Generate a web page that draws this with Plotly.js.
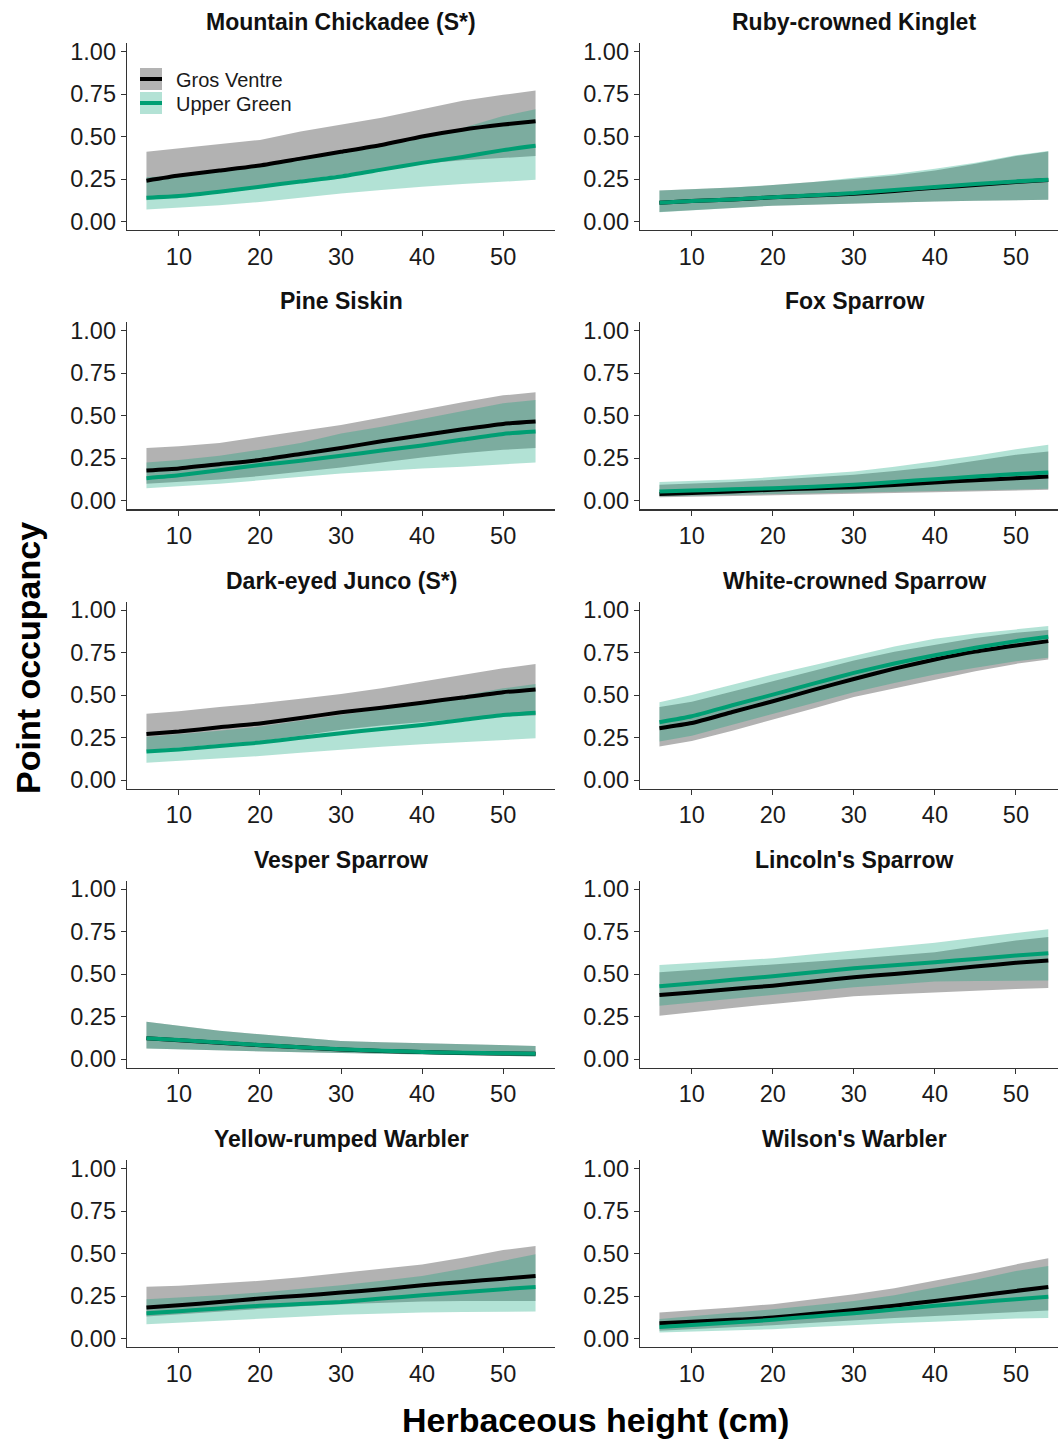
<!DOCTYPE html>
<html>
<head>
<meta charset="utf-8">
<script src="https://cdn.plot.ly/plotly-3.0.1.min.js"></script>
<style>html,body{margin:0;padding:0;background:#fff;}#chart{width:1058px;height:1441px;}</style>
</head>
<body>
<div id="chart"></div>
<script>
// ---------------- DATA ----------------
const heightCm = [6, 10, 15, 20, 25, 30, 35, 40, 45, 50, 54];
const xTicks = [10, 20, 30, 40, 50];
const yTicks = [0, 0.25, 0.5, 0.75, 1];
const yTickText = ['0.00', '0.25', '0.50', '0.75', '1.00'];
const seriesNames = ['Gros Ventre', 'Upper Green'];
const speciesTitles = [
  'Mountain Chickadee (S*)', 'Ruby-crowned Kinglet',
  'Pine Siskin', 'Fox Sparrow',
  'Dark-eyed Junco (S*)', 'White-crowned Sparrow',
  'Vesper Sparrow', "Lincoln's Sparrow",
  'Yellow-rumped Warbler', "Wilson's Warbler"
];

// Gros Ventre: mean, lower and upper interval (one list per species, same order as speciesTitles)
const gvMean = [
  [0.24, 0.27, 0.30, 0.33, 0.37, 0.41, 0.45, 0.50, 0.54, 0.57, 0.59],
  [0.11, 0.12, 0.13, 0.142, 0.153, 0.163, 0.18, 0.198, 0.215, 0.233, 0.244],
  [0.178, 0.19, 0.215, 0.24, 0.275, 0.31, 0.35, 0.385, 0.42, 0.452, 0.466],
  [0.039, 0.045, 0.055, 0.065, 0.072, 0.08, 0.093, 0.108, 0.12, 0.133, 0.143],
  [0.27, 0.285, 0.31, 0.333, 0.365, 0.398, 0.425, 0.455, 0.485, 0.516, 0.533],
  [0.305, 0.335, 0.40, 0.463, 0.53, 0.594, 0.655, 0.709, 0.755, 0.791, 0.817],
  [0.123, 0.112, 0.097, 0.083, 0.07, 0.058, 0.049, 0.042, 0.037, 0.034, 0.032],
  [0.378, 0.393, 0.413, 0.433, 0.458, 0.482, 0.502, 0.522, 0.545, 0.567, 0.581],
  [0.182, 0.195, 0.215, 0.235, 0.252, 0.27, 0.29, 0.313, 0.333, 0.352, 0.368],
  [0.09, 0.099, 0.11, 0.123, 0.145, 0.168, 0.193, 0.221, 0.25, 0.28, 0.303]
];
const gvLow = [
  [0.125, 0.15, 0.18, 0.21, 0.24, 0.275, 0.31, 0.34, 0.36, 0.375, 0.385],
  [0.056, 0.068, 0.08, 0.093, 0.10, 0.108, 0.113, 0.118, 0.122, 0.126, 0.128],
  [0.10, 0.11, 0.125, 0.145, 0.17, 0.195, 0.225, 0.255, 0.28, 0.30, 0.31],
  [0.02, 0.023, 0.027, 0.032, 0.036, 0.04, 0.045, 0.05, 0.055, 0.06, 0.065],
  [0.175, 0.19, 0.21, 0.23, 0.26, 0.295, 0.32, 0.34, 0.36, 0.372, 0.38],
  [0.197, 0.23, 0.29, 0.354, 0.42, 0.488, 0.54, 0.591, 0.64, 0.683, 0.709],
  [0.063, 0.058, 0.051, 0.045, 0.041, 0.037, 0.033, 0.029, 0.025, 0.02, 0.016],
  [0.256, 0.277, 0.302, 0.325, 0.348, 0.37, 0.383, 0.394, 0.404, 0.413, 0.419],
  [0.129, 0.142, 0.16, 0.178, 0.19, 0.202, 0.21, 0.217, 0.22, 0.221, 0.221],
  [0.045, 0.054, 0.066, 0.078, 0.093, 0.108, 0.121, 0.133, 0.145, 0.157, 0.164]
];
const gvHigh = [
  [0.41, 0.43, 0.455, 0.48, 0.53, 0.57, 0.61, 0.66, 0.71, 0.745, 0.77],
  [0.183, 0.19, 0.20, 0.214, 0.23, 0.25, 0.27, 0.30, 0.34, 0.385, 0.412],
  [0.31, 0.32, 0.34, 0.375, 0.41, 0.445, 0.49, 0.535, 0.58, 0.62, 0.638],
  [0.094, 0.10, 0.11, 0.123, 0.137, 0.153, 0.175, 0.20, 0.235, 0.27, 0.29],
  [0.39, 0.405, 0.43, 0.451, 0.478, 0.506, 0.54, 0.578, 0.62, 0.657, 0.682],
  [0.429, 0.46, 0.52, 0.581, 0.645, 0.703, 0.755, 0.797, 0.835, 0.866, 0.882],
  [0.22, 0.197, 0.168, 0.147, 0.126, 0.108, 0.10, 0.094, 0.087, 0.082, 0.078],
  [0.512, 0.525, 0.54, 0.555, 0.572, 0.591, 0.61, 0.63, 0.665, 0.699, 0.719],
  [0.305, 0.31, 0.325, 0.339, 0.36, 0.384, 0.41, 0.436, 0.475, 0.52, 0.544],
  [0.153, 0.165, 0.183, 0.202, 0.23, 0.26, 0.295, 0.339, 0.385, 0.436, 0.472]
];

// Upper Green: mean, lower and upper interval
const ugMean = [
  [0.14, 0.15, 0.175, 0.205, 0.235, 0.265, 0.305, 0.345, 0.38, 0.42, 0.445],
  [0.11, 0.12, 0.13, 0.143, 0.155, 0.167, 0.185, 0.203, 0.22, 0.236, 0.246],
  [0.133, 0.15, 0.18, 0.21, 0.235, 0.265, 0.295, 0.325, 0.36, 0.393, 0.407],
  [0.055, 0.06, 0.067, 0.074, 0.083, 0.094, 0.11, 0.127, 0.142, 0.157, 0.166],
  [0.167, 0.18, 0.20, 0.22, 0.248, 0.275, 0.30, 0.324, 0.353, 0.382, 0.396],
  [0.34, 0.375, 0.44, 0.502, 0.567, 0.63, 0.685, 0.734, 0.778, 0.817, 0.843],
  [0.124, 0.113, 0.098, 0.084, 0.071, 0.059, 0.05, 0.043, 0.038, 0.035, 0.033],
  [0.429, 0.446, 0.467, 0.488, 0.512, 0.535, 0.553, 0.571, 0.59, 0.61, 0.624],
  [0.149, 0.16, 0.177, 0.192, 0.203, 0.215, 0.235, 0.254, 0.272, 0.29, 0.303],
  [0.068, 0.079, 0.094, 0.11, 0.13, 0.149, 0.17, 0.192, 0.212, 0.231, 0.245]
];
const ugLow = [
  [0.07, 0.08, 0.095, 0.115, 0.14, 0.165, 0.185, 0.205, 0.22, 0.235, 0.245],
  [0.055, 0.068, 0.08, 0.093, 0.10, 0.108, 0.113, 0.118, 0.122, 0.126, 0.128],
  [0.074, 0.085, 0.10, 0.12, 0.14, 0.16, 0.175, 0.19, 0.20, 0.215, 0.225],
  [0.026, 0.03, 0.034, 0.038, 0.043, 0.048, 0.053, 0.058, 0.063, 0.067, 0.07],
  [0.102, 0.113, 0.127, 0.141, 0.16, 0.18, 0.196, 0.21, 0.222, 0.235, 0.245],
  [0.226, 0.26, 0.325, 0.39, 0.455, 0.516, 0.57, 0.62, 0.66, 0.699, 0.719],
  [0.063, 0.058, 0.051, 0.045, 0.041, 0.037, 0.033, 0.029, 0.025, 0.02, 0.016],
  [0.315, 0.333, 0.357, 0.378, 0.40, 0.423, 0.44, 0.457, 0.461, 0.463, 0.463],
  [0.084, 0.094, 0.106, 0.117, 0.128, 0.139, 0.147, 0.153, 0.156, 0.159, 0.159],
  [0.035, 0.041, 0.048, 0.055, 0.067, 0.08, 0.09, 0.098, 0.108, 0.117, 0.121]
];
const ugHigh = [
  [0.26, 0.27, 0.30, 0.33, 0.37, 0.40, 0.44, 0.49, 0.55, 0.62, 0.66],
  [0.183, 0.19, 0.20, 0.215, 0.232, 0.258, 0.28, 0.31, 0.345, 0.39, 0.415],
  [0.225, 0.24, 0.265, 0.30, 0.34, 0.395, 0.435, 0.48, 0.525, 0.573, 0.593],
  [0.11, 0.115, 0.125, 0.139, 0.155, 0.172, 0.20, 0.231, 0.265, 0.303, 0.329],
  [0.255, 0.27, 0.29, 0.314, 0.348, 0.382, 0.415, 0.451, 0.495, 0.539, 0.565],
  [0.457, 0.50, 0.56, 0.62, 0.675, 0.728, 0.785, 0.831, 0.862, 0.886, 0.906],
  [0.22, 0.197, 0.168, 0.147, 0.126, 0.108, 0.10, 0.094, 0.087, 0.082, 0.078],
  [0.555, 0.566, 0.58, 0.594, 0.617, 0.64, 0.662, 0.685, 0.715, 0.744, 0.764],
  [0.231, 0.24, 0.255, 0.27, 0.29, 0.313, 0.34, 0.368, 0.41, 0.456, 0.495],
  [0.114, 0.13, 0.15, 0.172, 0.196, 0.221, 0.255, 0.299, 0.345, 0.397, 0.427]
];

// ---------------- STYLE / LAYOUT ----------------
const W = 1058, H = 1441;
const FONT = 'Liberation Sans, Arial, Helvetica, sans-serif';
const GV_LINE = '#000000', UG_LINE = '#009E73';
const GV_FILL = 'rgba(0,0,0,0.30)', UG_FILL = 'rgba(0,158,115,0.30)';
const AXIS_COL = '#333333', TXT = '#1a1a1a';

const colLeft = [[127, 555], [640, 1058]];
const colRange = [[3.6, 56.4], [3.6, 55.2]];
const rowTop0 = 43, rowBot0 = 230, rowStep = 279.25;

const px2x = p => p / W;
const px2y = p => 1 - p / H;

const traces = [];
const layout = {
  width: W, height: H,
  margin: {l: 0, r: 0, t: 0, b: 0},
  paper_bgcolor: '#ffffff', plot_bgcolor: '#ffffff',
  showlegend: false,
  font: {family: FONT, color: TXT},
  annotations: [], shapes: []
};

speciesTitles.forEach((title, i) => {
  const col = i % 2, row = Math.floor(i / 2);
  const n = i + 1;
  const xa = 'x' + (n === 1 ? '' : n), ya = 'y' + (n === 1 ? '' : n);
  const top = rowTop0 + rowStep * row, bot = rowBot0 + rowStep * row;

  layout['xaxis' + (n === 1 ? '' : n)] = {
    domain: [px2x(colLeft[col][0]), px2x(colLeft[col][1])],
    anchor: ya, range: colRange[col],
    tickvals: xTicks, ticks: 'outside', ticklen: 5, tickwidth: 1, tickcolor: AXIS_COL,
    showline: true, linecolor: AXIS_COL, linewidth: 1.3,
    showgrid: false, zeroline: false,
    tickfont: {family: FONT, size: 23.5, color: TXT}
  };
  layout['yaxis' + (n === 1 ? '' : n)] = {
    domain: [px2y(bot), px2y(top)],
    anchor: xa, range: [-0.05, 1.05],
    tickvals: yTicks, ticktext: yTickText, ticks: 'outside', ticklen: 5, tickwidth: 1, tickcolor: AXIS_COL,
    showline: true, linecolor: AXIS_COL, linewidth: 1.3,
    showgrid: false, zeroline: false,
    tickfont: {family: FONT, size: 23.5, color: TXT}
  };

  const base = {x: heightCm, xaxis: xa, yaxis: ya, mode: 'lines', hoverinfo: 'skip', showlegend: false};
  traces.push(Object.assign({}, base, {y: gvLow[i], line: {width: 0, color: GV_FILL}}));
  traces.push(Object.assign({}, base, {y: gvHigh[i], line: {width: 0, color: GV_FILL}, fill: 'tonexty', fillcolor: GV_FILL}));
  traces.push(Object.assign({}, base, {y: ugLow[i], line: {width: 0, color: UG_FILL}}));
  traces.push(Object.assign({}, base, {y: ugHigh[i], line: {width: 0, color: UG_FILL}, fill: 'tonexty', fillcolor: UG_FILL}));
  traces.push(Object.assign({}, base, {y: gvMean[i], name: seriesNames[0], line: {width: 4, color: GV_LINE, shape: 'spline', smoothing: 0.5}}));
  traces.push(Object.assign({}, base, {y: ugMean[i], name: seriesNames[1], line: {width: 4, color: UG_LINE, shape: 'spline', smoothing: 0.5}}));

  layout.annotations.push({
    xref: 'paper', yref: 'paper',
    x: px2x((colLeft[col][0] + colLeft[col][0] + 428) / 2), y: px2y(22 + rowStep * row),
    xanchor: 'center', yanchor: 'middle', showarrow: false,
    text: '<b>' + title + '</b>', font: {family: FONT, size: 23, color: '#111'}
  });
});

// Axis titles
layout.annotations.push({
  xref: 'paper', yref: 'paper', x: px2x(28), y: px2y(658),
  xanchor: 'center', yanchor: 'middle', textangle: -90, showarrow: false,
  text: '<b>Point occupancy</b>', font: {family: FONT, size: 34, color: '#000'}
});
layout.annotations.push({
  xref: 'paper', yref: 'paper', x: px2x(595), y: px2y(1420),
  xanchor: 'center', yanchor: 'middle', showarrow: false,
  text: '<b>Herbaceous height (cm)</b>', font: {family: FONT, size: 34, color: '#000'}
});

// Legend (inside first panel)
const legendKeys = [
  {fill: '#b3b3b3', line: GV_LINE, top: 68, bot: 90, mid: 79},
  {fill: '#b3e2d5', line: UG_LINE, top: 92, bot: 114, mid: 103}
];
legendKeys.forEach((k, j) => {
  layout.shapes.push({type: 'rect', xref: 'paper', yref: 'paper',
    x0: px2x(140), x1: px2x(162), y0: px2y(k.bot), y1: px2y(k.top),
    fillcolor: k.fill, line: {width: 0}});
  layout.shapes.push({type: 'line', xref: 'paper', yref: 'paper',
    x0: px2x(140), x1: px2x(162), y0: px2y(k.mid), y1: px2y(k.mid),
    line: {color: k.line, width: 4}});
  layout.annotations.push({xref: 'paper', yref: 'paper', x: px2x(174), y: px2y(k.mid + 1),
    xanchor: 'left', yanchor: 'middle', showarrow: false,
    text: seriesNames[j], font: {family: FONT, size: 20, color: TXT}});
});

Plotly.newPlot('chart', traces, layout, {staticPlot: true, displayModeBar: false});
</script>
</body>
</html>
